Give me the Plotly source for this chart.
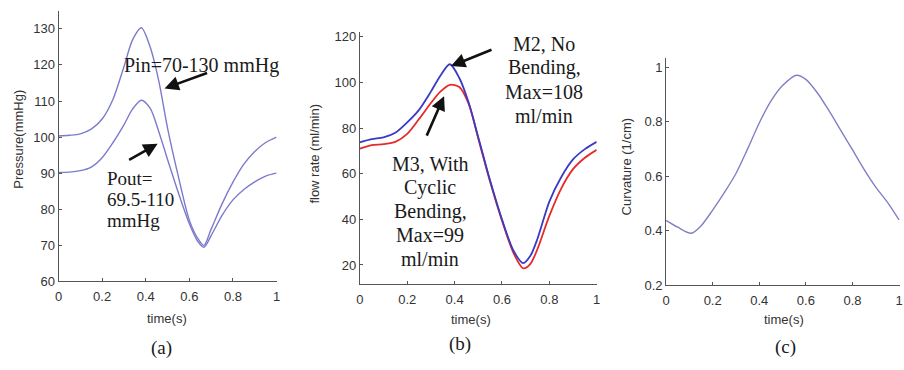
import plotly.graph_objects as go

W, H = 904, 370

# ---------------- data ----------------
t_a = [0, 0.05, 0.1, 0.15, 0.2, 0.25, 0.3, 0.34, 0.38, 0.42, 0.46, 0.5, 0.55,
       0.6, 0.64, 0.667, 0.7, 0.75, 0.8, 0.85, 0.9, 0.95, 1.0]
p_in = [100.3, 100.5, 100.9, 102.2, 105.0, 110.5, 119.5, 127.0, 130.3, 125.0,
        115.5, 102.5, 89.0, 77.0, 71.8, 70.0, 74.5, 81.5, 87.5, 92.5, 96.0,
        98.5, 100.0]
p_out = [90.2, 90.3, 90.7, 91.7, 94.3, 98.5, 103.4, 107.8, 110.2, 108.0,
         101.5, 93.8, 84.5, 76.0, 71.0, 69.5, 72.7, 78.3, 82.6, 85.5, 87.6,
         89.2, 90.0]

t_b = [0, 0.05, 0.1, 0.15, 0.2, 0.25, 0.3, 0.34, 0.38, 0.42, 0.46, 0.5, 0.55,
       0.6, 0.65, 0.69, 0.72, 0.75, 0.8, 0.85, 0.9, 0.95, 1.0]
flow_m2 = [73.8, 75.2, 76.0, 78.0, 82.5, 88.0, 96.0, 103.0, 108.0, 102.0,
           91.0, 76.0, 57.0, 40.0, 26.0, 20.8, 24.0, 31.5, 47.8, 58.5, 66.3,
           70.8, 74.0]
flow_m3 = [71.0, 72.5, 73.0, 74.0, 77.5, 84.0, 91.0, 96.0, 99.0, 98.0, 90.5,
           75.5, 56.5, 39.5, 25.0, 18.5, 20.5, 27.0, 41.5, 53.5, 62.0, 67.0,
           70.5]

t_c = [0, 0.05, 0.108, 0.15, 0.2, 0.25, 0.3, 0.35, 0.4, 0.45, 0.5, 0.56, 0.6,
       0.65, 0.7, 0.75, 0.8, 0.85, 0.9, 0.95, 1.0]
curvature = [0.438, 0.413, 0.391, 0.418, 0.476, 0.54, 0.61, 0.70, 0.795,
             0.875, 0.932, 0.970, 0.955, 0.905, 0.839, 0.768, 0.697, 0.625,
             0.56, 0.505, 0.44]

x_ticks = [0, 0.2, 0.4, 0.6, 0.8, 1]
x_tick_text = ["0", "0.2", "0.4", "0.6", "0.8", "1"]
ya_ticks = [60, 70, 80, 90, 100, 110, 120, 130]
yb_ticks = [20, 40, 60, 80, 100, 120]
yc_ticks = [0.2, 0.4, 0.6, 0.8, 1]

# ---------------- helpers ----------------
def px_x(p):
    return p / W

def px_y(p):
    return 1 - p / H

SANS = "Liberation Sans, Arial, sans-serif"
SERIF = "Liberation Serif, Times New Roman, serif"
AX_COL = "#555555"

def axis(domain, rng, tickvals, ticktext=None, anchor=None, standoff=0):
    d = dict(domain=domain, range=rng, tickvals=tickvals, showline=True,
             linecolor=AX_COL, linewidth=1, ticks="inside", ticklen=3,
             tickcolor=AX_COL, showgrid=False, zeroline=False, mirror=False,
             tickfont=dict(family=SANS, size=13, color="#333333"),
             ticklabelstandoff=standoff, fixedrange=True)
    if ticktext is not None:
        d["ticktext"] = ticktext
    if anchor:
        d["anchor"] = anchor
    return d

fig = go.Figure()

lav = "#7b7bcc"
fig.add_trace(go.Scatter(x=t_a, y=p_in, mode="lines", line=dict(color=lav, width=1.4, shape="spline", smoothing=0.8),
                         xaxis="x", yaxis="y", name="Pin"))
fig.add_trace(go.Scatter(x=t_a, y=p_out, mode="lines", line=dict(color=lav, width=1.4, shape="spline", smoothing=0.8),
                         xaxis="x", yaxis="y", name="Pout"))
fig.add_trace(go.Scatter(x=t_b, y=flow_m3, mode="lines", line=dict(color="#e52a2a", width=1.8, shape="spline", smoothing=0.8),
                         xaxis="x2", yaxis="y2", name="M3"))
fig.add_trace(go.Scatter(x=t_b, y=flow_m2, mode="lines", line=dict(color="#3a3ac4", width=1.8, shape="spline", smoothing=0.8),
                         xaxis="x2", yaxis="y2", name="M2"))
fig.add_trace(go.Scatter(x=t_c, y=curvature, mode="lines", line=dict(color="#8080c4", width=1.4, shape="spline", smoothing=0.8),
                         xaxis="x3", yaxis="y3", name="Curvature"))

layout = dict(
    width=W, height=H, margin=dict(l=0, r=0, t=0, b=0),
    paper_bgcolor="white", plot_bgcolor="white", showlegend=False,
    xaxis=axis([px_x(55), px_x(275)], [0, 1], x_ticks, x_tick_text, "y", 3),
    yaxis=axis([px_y(287), px_y(8)], [60, 135], ya_ticks, anchor="x"),
    xaxis2=axis([px_x(359), px_x(598)], [0, 1], x_ticks, x_tick_text, "y2", 3),
    yaxis2=axis([px_y(290), px_y(30)], [11.5, 122.1], yb_ticks, anchor="x2"),
    xaxis3=axis([px_x(668), 1.0], [0, 236 / 235], x_ticks, x_tick_text, "y3", 3),
    yaxis3=axis([px_y(291), px_y(57)], [0.2, 1.032], yc_ticks, anchor="x3"),
)
fig.update_layout(**layout)

ann = []

def text(x, y, s, size=20, family=SERIF, angle=0, color="#1a1a1a", xanchor="center"):
    ann.append(dict(x=px_x(x), y=px_y(y), xref="paper", yref="paper", text=s,
                    showarrow=False, font=dict(family=family, size=size, color=color),
                    textangle=angle, xanchor=xanchor, yanchor="middle"))

def arrow(tx, ty, hx, hy):
    ann.append(dict(x=px_x(hx), y=px_y(hy), xref="paper", yref="paper", text="",
                    showarrow=True, ax=tx - hx, ay=ty - hy, arrowhead=2,
                    arrowsize=1.1, arrowwidth=2.6, arrowcolor="#111111", standoff=0))

# axis titles
text(15, 140, "Pressure(mmHg)", size=13, family=SANS, angle=-90, color="#333333")
text(313, 155, "flow rate (ml/min)", size=13, family=SANS, angle=-90, color="#333333")
text(628, 168, "Curvature (1/cm)", size=13, family=SANS, angle=-90, color="#333333")
text(164, 325, "time(s)", size=13, family=SANS, color="#333333")
text(471, 326, "time(s)", size=13, family=SANS, color="#333333")
text(787, 326, "time(s)", size=13, family=SANS, color="#333333")

# panel labels
text(159, 356, "(a)", size=19)
text(460, 351, "(b)", size=19)
text(788, 355, "(c)", size=19)

# panel (a) annotations
text(199, 64, "Pin=70-130 mmHg")
text(102, 181, "Pout=", size=19, xanchor="left")
text(102, 202.5, "69.5-110", size=19, xanchor="left")
text(102, 224, "mmHg", size=19, xanchor="left")
arrow(206, 72, 162, 88)
arrow(125, 162, 155, 145)

# panel (b) annotations
for i, s in enumerate(["M2, No", "Bending,", "Max=108", "ml/min"]):
    text(545, 42 + 24.7 * i, s)
for i, s in enumerate(["M3, With", "Cyclic", "Bending,", "Max=99", "ml/min"]):
    text(430, 166 + 24.5 * i, s)
arrow(493, 48, 451, 65)
arrow(426, 137, 444, 96)

fig.update_layout(annotations=ann)
fig.write_html(
    "out.html",
    config={"displayModeBar": False},
    post_script="document.body.style.margin='0';document.body.style.padding='0';",
)
